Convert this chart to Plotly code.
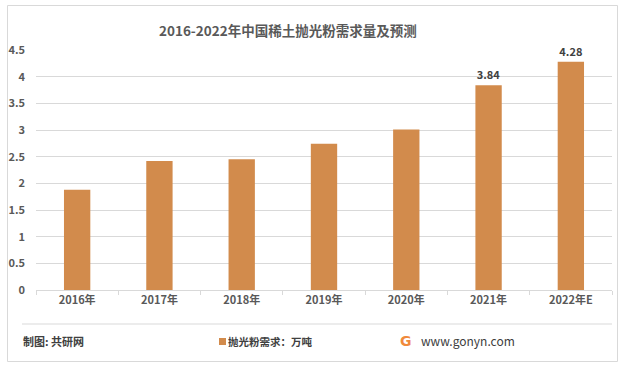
import plotly.graph_objects as go

categories = ["2016年", "2017年", "2018年", "2019年", "2020年", "2021年", "2022年E"]
demand = [1.88, 2.42, 2.45, 2.74, 3.01, 3.84, 4.28]
labels = ["", "", "", "", "", "3.84", "4.28"]
y_ticks = [0, 0.5, 1, 1.5, 2, 2.5, 3, 3.5, 4, 4.5]
y_tick_text = ["0", "0.5", "1", "1.5", "2", "2.5", "3", "3.5", "4", "4.5"]
series_name = "抛光粉需求：万吨"

W, H = 620, 367
L, R, T, B = 36, 612, 50, 290

def px(x):
    return (x - L) / (R - L)

def py(y):
    return (B - y) / (B - T)

FONT = "Noto Sans CJK SC"
BAR = "#D28B4C"

fig = go.Figure()
fig.add_trace(go.Bar(
    x=categories, y=demand, name=series_name,
    marker=dict(color=BAR, line=dict(width=0)),
    width=0.32,
    text=labels, textposition="outside", cliponaxis=False,
    textfont=dict(family=FONT, size=11, color="#404040", weight="bold"),
    showlegend=False,
))

fig.update_layout(
    width=W, height=H,
    margin=dict(l=L, r=W - R, t=T, b=H - B, autoexpand=False),
    paper_bgcolor="white", plot_bgcolor="white",
    font=dict(family=FONT, color="#595959"),
    showlegend=False,
    xaxis=dict(
        showgrid=False, showline=True, linecolor="#D9D9D9", linewidth=1,
        ticks="outside", ticklen=4, tickcolor="#D9D9D9", tickson="boundaries",
        tickfont=dict(family=FONT, size=11, color="#595959", weight="bold"),
        fixedrange=True,
    ),
    yaxis=dict(
        range=[0, 4.5], tickvals=y_ticks, ticktext=y_tick_text,
        showgrid=True, gridcolor="#D9D9D9", gridwidth=1,
        zeroline=False, showline=False,
        tickfont=dict(family=FONT, size=11, color="#595959", weight="bold"),
        ticklabelstandoff=10,
        fixedrange=True,
    ),
)

annotations = [
    dict(text="<b>2016-2022年中国稀土抛光粉需求量及预测</b>", x=px(288), y=py(30),
         xref="paper", yref="paper", showarrow=False, xanchor="center", yanchor="middle",
         font=dict(family=FONT, size=13.5, color="#595959")),
    dict(text="<b>制图: 共研网</b>", x=px(21), y=py(341), xref="paper", yref="paper",
         showarrow=False, xanchor="left", yanchor="middle",
         font=dict(family=FONT, size=11, color="#404040")),
    dict(text="<b>" + series_name + "</b>", x=px(226), y=py(341), xref="paper", yref="paper",
         showarrow=False, xanchor="left", yanchor="middle",
         font=dict(family=FONT, size=10.5, color="#404040")),
    dict(text="<b>G</b>", x=px(406), y=py(341), xref="paper", yref="paper",
         showarrow=False, xanchor="center", yanchor="middle",
         font=dict(family="DejaVu Sans", size=14, color="#F08A3C")),
    dict(text="www.gonyn.com", x=px(419), y=py(340), xref="paper", yref="paper",
         showarrow=False, xanchor="left", yanchor="middle",
         font=dict(family=FONT, size=12, color="#404040")),
]
fig.update_layout(annotations=annotations)

shapes = [
    dict(type="rect", xref="paper", yref="paper", x0=px(7.5), x1=px(617.5),
         y0=py(361.5), y1=py(5.5), line=dict(color="#D9D9D9", width=1)),
    dict(type="line", xref="paper", yref="paper", x0=px(22), x1=px(612),
         y0=py(324), y1=py(324), line=dict(color="#D9D9D9", width=1)),
    dict(type="rect", xref="paper", yref="paper", x0=px(219), x1=px(226),
         y0=py(345), y1=py(338), line=dict(width=0), fillcolor=BAR),
]
fig.update_layout(shapes=shapes)

fig.write_html("out.html", config={"displayModeBar": False},
               post_script="document.body.style.margin='0';")
